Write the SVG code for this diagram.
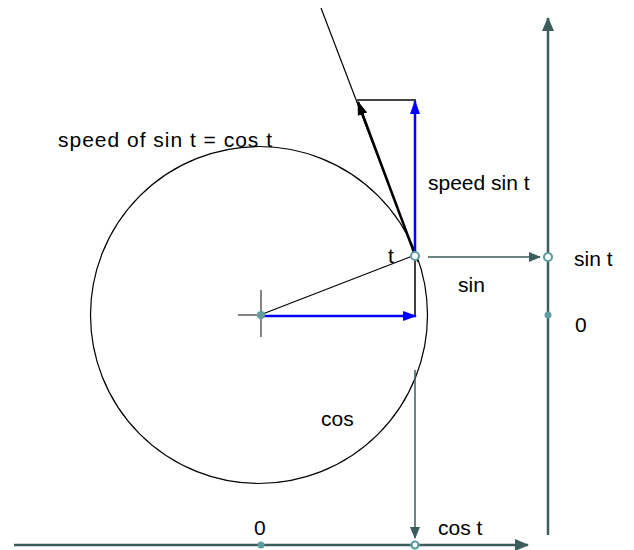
<svg xmlns="http://www.w3.org/2000/svg" width="634" height="550" viewBox="0 0 634 550">
<style>
text{font-family:"Liberation Sans",Arial,sans-serif;font-size:21px;fill:#000}
.axis{stroke:#3d5c5c;stroke-width:2.5;fill:none}
.proj{stroke:#3d5c5c;stroke-width:1.5;fill:none}
.blue{stroke:#0000ff;stroke-width:2.5;fill:none}
.thin{stroke:#000;stroke-width:1.2;fill:none}
.hol{fill:#fff;stroke:#5f9ea0;stroke-width:2.2}
.dot{fill:#5f9ea0}
</style>
<defs>
<marker id="ha" markerUnits="userSpaceOnUse" viewBox="0 0 14 12" refX="13" refY="6" markerWidth="14" markerHeight="12" orient="auto"><path d="M0,0 L14,6 L0,12 Z" fill="#3d5c5c"/></marker>
<marker id="hp" markerUnits="userSpaceOnUse" viewBox="0 0 12 10" refX="11" refY="5" markerWidth="12" markerHeight="10" orient="auto"><path d="M0,0 L12,5 L0,10 Z" fill="#3d5c5c"/></marker>
<marker id="hb" markerUnits="userSpaceOnUse" viewBox="0 0 14 10" refX="13" refY="5" markerWidth="14" markerHeight="10" orient="auto"><path d="M0,0 L14,5 L0,10 Z" fill="#0000ff"/></marker>
<marker id="hk" markerUnits="userSpaceOnUse" viewBox="0 0 14 10" refX="13" refY="5" markerWidth="14" markerHeight="10" orient="auto"><path d="M0,0 L14,5 L0,10 Z" fill="#000"/></marker>
</defs>
<g id="circle"><circle cx="259" cy="315" r="168.5" class="thin"/></g>
<g id="connectors">
<line x1="321" y1="8" x2="418" y2="262" class="thin"/>
<line x1="357" y1="100" x2="416" y2="100" stroke="#444" stroke-width="2"/>
<line x1="415" y1="255" x2="358" y2="102" stroke="#000" stroke-width="2.5" marker-end="url(#hk)"/>
<line x1="415" y1="255" x2="415" y2="101" class="blue" marker-end="url(#hb)"/>
<line x1="260" y1="315" x2="415" y2="255" class="thin"/>
<line x1="415" y1="255" x2="415" y2="317" stroke="#000" stroke-width="1.5"/>
<line x1="262" y1="316" x2="416" y2="316" class="blue" marker-end="url(#hb)"/>
<line x1="238" y1="315" x2="262" y2="315" stroke="#333" stroke-width="1.2"/>
<line x1="261" y1="290" x2="261" y2="337" stroke="#333" stroke-width="1.2"/>
<line x1="428" y1="257" x2="540" y2="257" class="proj" marker-end="url(#hp)"/>
<line x1="415" y1="370" x2="415" y2="538" class="proj" marker-end="url(#hp)"/>
<line x1="548" y1="535" x2="548" y2="18" class="axis" marker-end="url(#ha)"/>
<line x1="14" y1="545" x2="528" y2="545" class="axis" marker-end="url(#ha)"/>
</g>
<g id="points">
<circle cx="261" cy="315" r="4" class="dot"/>
<circle cx="415" cy="256" r="4" class="hol"/>
<circle cx="548" cy="257" r="4" class="hol"/>
<circle cx="548" cy="315" r="3.5" class="dot"/>
<circle cx="261" cy="545" r="3.5" class="dot"/>
<circle cx="415" cy="545" r="3.5" class="hol"/>
</g>
<g id="labels">
<text x="58" y="147" textLength="214" lengthAdjust="spacing">speed of sin t = cos t</text>
<text x="428" y="190">speed sin t</text>
<text x="388" y="263">t</text>
<text x="458" y="292">sin</text>
<text x="574" y="266">sin t</text>
<text x="575" y="332">0</text>
<text x="321" y="426">cos</text>
<text x="254" y="535">0</text>
<text x="438" y="535">cos t</text>
</g>
</svg>
